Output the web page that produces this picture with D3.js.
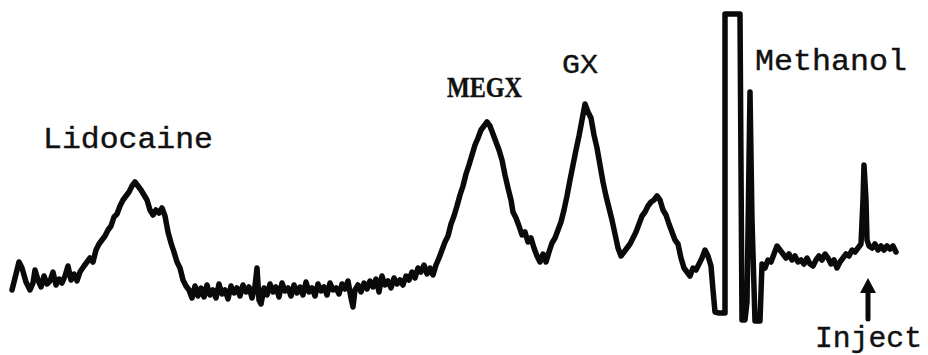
<!DOCTYPE html>
<html>
<head>
<meta charset="utf-8">
<script src="https://cdn.jsdelivr.net/npm/d3@7"></script>
<style>
  html, body { margin: 0; padding: 0; background: #fff; }
  svg { display: block; }
</style>
</head>
<body>
<svg id="chart" width="928" height="355"></svg>
<script>
// Chart position (time axis runs right-to-left from injection)
const position = [12,15,19,22,26,30,33,35,38,41,44,47,50,53,56,59,62,65,68,71,74,77,80,84,87,90,93,96,99,102,105,108,111,114,117,120,123,126,129,132,135,138,141,144,147,150,153,156,159,162,165,168,171,174,177,180,183,186,189,192,195,198,201,204,207,210,213,216,219,222,225,228,231,234,237,240,243,246,249,252,255,257,259,261,264,267,270,273,276,279,282,285,288,291,294,297,300,303,306,309,312,315,318,321,324,327,330,333,336,339,342,345,348,351,353,355,358,361,364,367,370,373,376,379,382,385,388,391,394,397,400,403,406,409,412,415,418,421,424,427,430,433,436,439,442,445,448,451,454,457,460,463,466,469,472,475,478,481,484,487,490,493,496,499,502,505,508,511,513,516,519,522,525,528,531,534,537,540,543,546,549,552,555,558,561,564,567,570,573,576,579,582,585,588,591,594,597,600,603,606,609,612,615,618,621,624,627,630,633,636,639,642,645,648,651,654,657,660,663,666,669,672,675,678,681,684,687,690,693,696,699,702,705,708,711,713,715,719,725,725,740,742,745,747,750,752,755,760,762,765,768,771,774,777,780,783,786,789,792,795,798,801,804,807,810,813,816,819,822,825,828,831,834,837,840,843,846,849,852,855,858,861,863,864,866,867,869,872,875,878,881,884,887,890,893,896];
// Detector response (arbitrary units)
const response = [40,52,68,62,48,40,47,60,50,43,54,46,49,58,45,51,47,54,64,50,56,49,58,64,68,72,68,80,86,90,94,100,104,113,116,124,130,134,138,144,148,144,140,135,130,120,115,120,117,122,114,98,87,78,68,62,50,44,40,32,44,34,42,33,45,35,40,32,46,36,40,31,44,37,42,34,45,38,43,32,44,62,30,26,42,35,46,38,43,33,47,39,42,34,45,37,43,35,48,38,42,34,46,39,43,35,47,40,42,36,46,41,49,32,23,40,45,38,47,41,49,43,51,38,54,45,49,42,52,46,50,45,54,50,58,52,62,58,65,56,62,55,65,72,80,88,94,106,114,124,135,144,156,165,175,185,192,200,204,208,204,196,188,180,170,155,142,130,118,112,104,95,98,88,92,82,74,68,76,68,78,87,92,100,108,120,134,150,165,180,194,210,226,218,212,195,182,165,148,134,122,110,96,82,74,78,82,86,92,98,106,114,118,124,128,130,134,130,120,115,106,98,90,86,72,62,58,54,62,60,66,72,80,74,64,40,18,17,17,316,316,10,10,28,238,110,9,9,66,62,70,68,76,84,80,76,72,76,70,74,68,70,66,72,66,64,70,74,70,76,72,66,70,62,68,72,76,74,80,78,82,86,130,165,130,90,84,82,86,80,84,80,84,81,84,78];

const peakLabels = ["Lidocaine", "MEGX", "GX", "Methanol"];
const injectLabel = "Inject";
const injectPosition = 868;

const W = 928, H = 355;
const svg = d3.select("#chart");
svg.append("rect").attr("width", W).attr("height", H).attr("fill", "#fff");

const x = d3.scaleLinear().domain([0, 928]).range([0, 928]);
const y = d3.scaleLinear().domain([0, 330]).range([330, 0]);

const pts = position.map((p, i) => [p, response[i]]);
const line = d3.line().x(d => x(d[0])).y(d => y(d[1]));

svg.append("path")
  .datum(pts)
  .attr("d", line)
  .attr("fill", "none")
  .attr("stroke", "#0a0a0a")
  .attr("stroke-width", 5.5)
  .attr("stroke-linejoin", "round")
  .attr("stroke-linecap", "round");

// Labels
const mono = "'Liberation Mono', 'DejaVu Sans Mono', monospace";
const labelSpecs = [
  { text: peakLabels[0], px: 43, base: 182, w: 170, size: 30, font: mono, weight: "normal" },
  { text: peakLabels[1], px: 447, base: 233, w: 75, size: 29, font: "'Liberation Serif', serif", weight: "bold" },
  { text: peakLabels[2], px: 562, base: 257, w: 36, size: 28, font: mono, weight: "normal" },
  { text: peakLabels[3], px: 755, base: 260, w: 152, size: 30, font: mono, weight: "normal" }
];
labelSpecs.forEach(s => {
  svg.append("text")
    .attr("x", x(s.px))
    .attr("y", y(s.base))
    .attr("font-family", s.font)
    .attr("font-size", s.size)
    .attr("font-weight", s.weight)
    .attr("textLength", s.w)
    .attr("lengthAdjust", "spacingAndGlyphs")
    .attr("fill", "#111")
    .attr("stroke", "#111")
    .attr("stroke-width", 0.4)
    .text(s.text);
});

// Inject arrow + label
const ax = x(injectPosition);
svg.append("line")
  .attr("x1", ax).attr("x2", ax)
  .attr("y1", y(42)).attr("y2", y(11))
  .attr("stroke", "#0a0a0a").attr("stroke-width", 5).attr("stroke-linecap", "round");
svg.append("path")
  .attr("d", d3.line()([[ax, y(52)], [ax - 8, y(37)], [ax + 8, y(37)]]) + "Z")
  .attr("fill", "#0a0a0a");
svg.append("text")
  .attr("x", x(815))
  .attr("y", y(-17))
  .attr("font-family", mono)
  .attr("font-size", 29)
  .attr("textLength", 107)
  .attr("lengthAdjust", "spacingAndGlyphs")
  .attr("fill", "#111")
  .attr("stroke", "#111")
  .attr("stroke-width", 0.4)
  .text(injectLabel);
</script>
</body>
</html>
